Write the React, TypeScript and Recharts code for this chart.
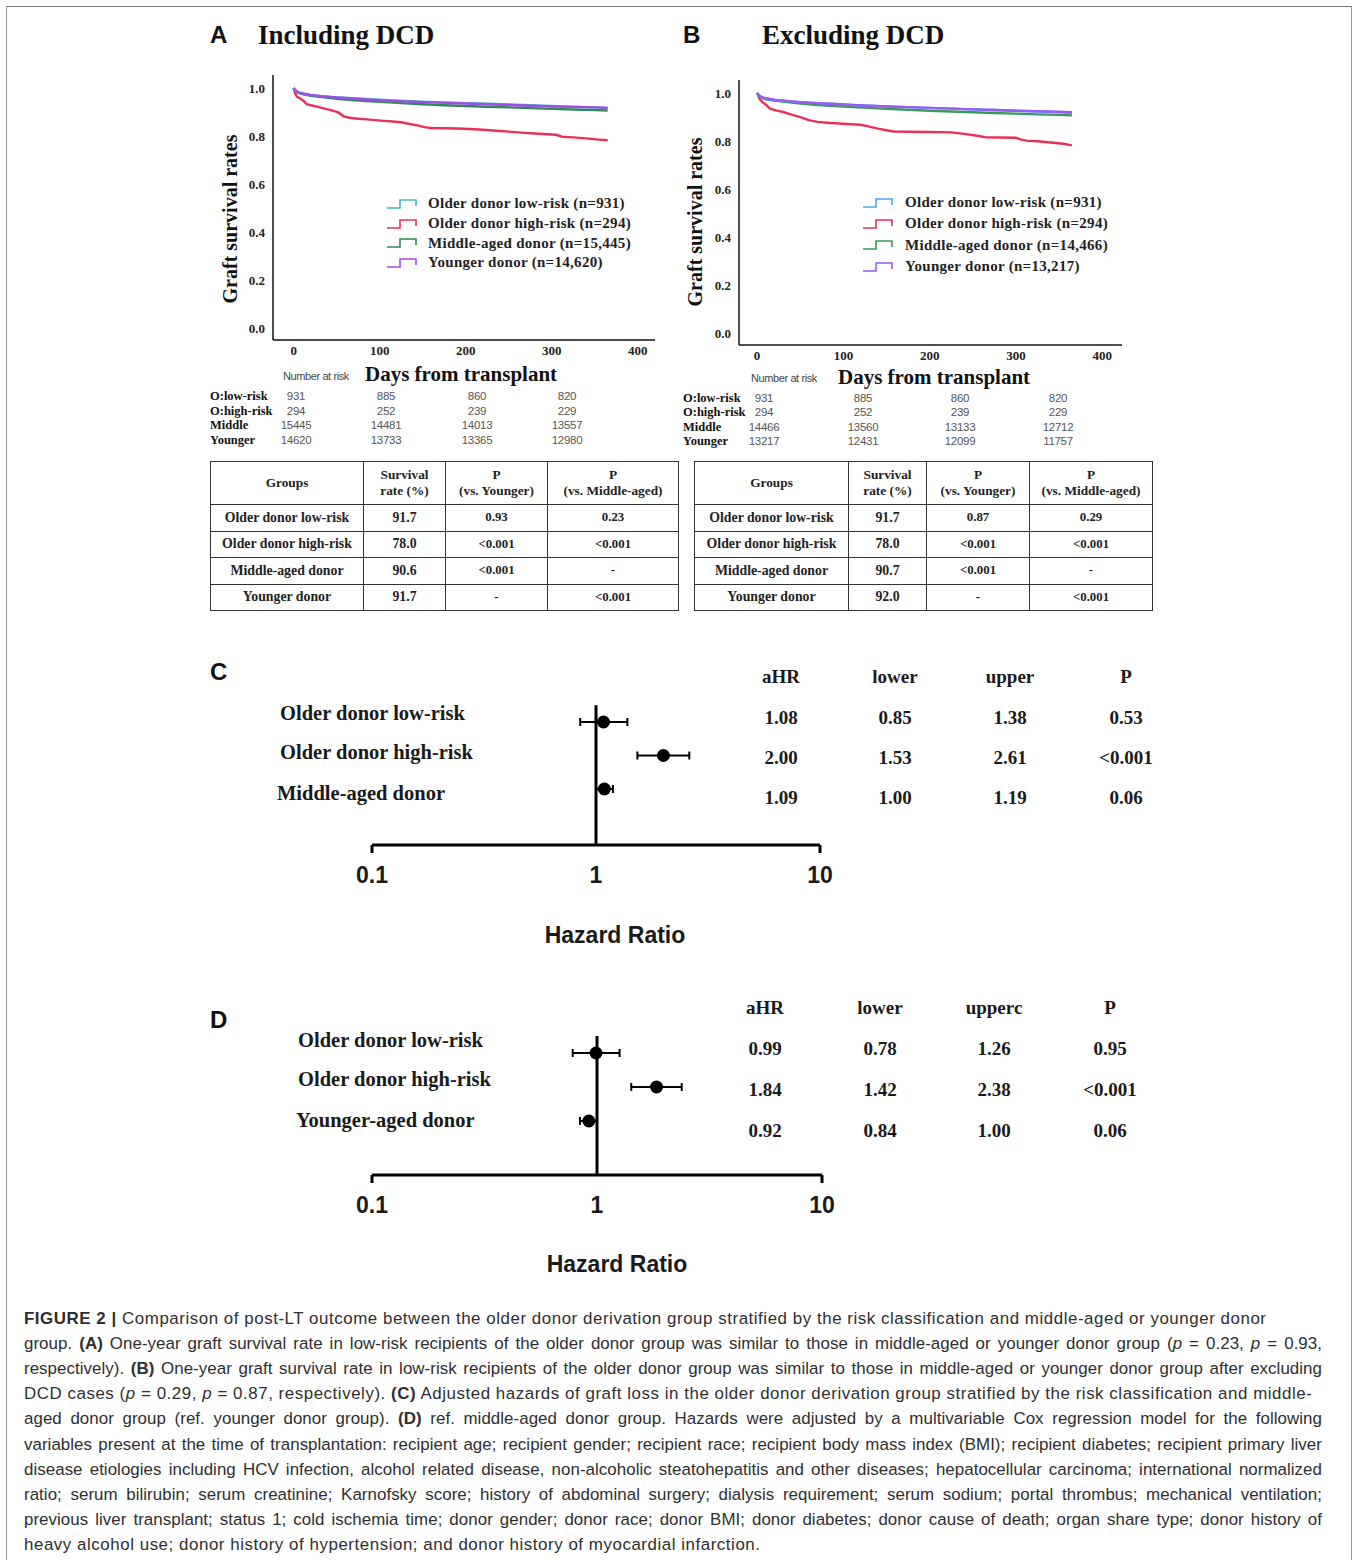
import React from 'react';
import {
  LineChart,
  Line,
  XAxis,
  YAxis,
  Legend,
  ScatterChart,
  Scatter,
  ErrorBar,
  ReferenceLine,
} from 'recharts';

const SERIF = "'Liberation Serif','DejaVu Serif',serif";
const SANS = "'Liberation Sans',Arial,sans-serif";

// ---------------- data ----------------
const dayTicks = [0, 100, 200, 300, 400];
const survTicks = [0, 0.2, 0.4, 0.6, 0.8, 1.0];

const groupNames = ['Older donor low-risk', 'Older donor high-risk', 'Middle-aged donor', 'Younger donor'];
const nA = ['931', '294', '15,445', '14,620'];
const nB = ['931', '294', '14,466', '13,217'];

const curveDays = [0, 2, 5, 10, 20, 35, 50, 70, 90, 110, 130, 150, 175, 200, 225, 250, 275, 300, 325, 350, 365];
const A_low = [1, 0.99, 0.982, 0.976, 0.97, 0.965, 0.961, 0.957, 0.953, 0.949, 0.946, 0.943, 0.94, 0.937, 0.934, 0.931, 0.928, 0.925, 0.922, 0.919, 0.917];
const A_mid = [1, 0.988, 0.98, 0.974, 0.967, 0.961, 0.955, 0.949, 0.944, 0.94, 0.936, 0.932, 0.928, 0.925, 0.922, 0.919, 0.916, 0.913, 0.91, 0.908, 0.906];
const A_young = [1, 0.99, 0.983, 0.977, 0.971, 0.965, 0.96, 0.955, 0.951, 0.947, 0.944, 0.941, 0.938, 0.935, 0.932, 0.929, 0.926, 0.923, 0.921, 0.919, 0.917];
const A_highDays = [0, 2, 4, 8, 12, 15, 20, 28, 36, 44, 52, 58, 65, 75, 85, 95, 105, 115, 125, 135, 145, 152, 160, 175, 190, 205, 220, 235, 250, 265, 280, 295, 305, 312, 325, 340, 355, 365];
const A_high = [1, 0.975, 0.963, 0.955, 0.945, 0.932, 0.928, 0.921, 0.914, 0.907, 0.898, 0.882, 0.876, 0.872, 0.869, 0.866, 0.863, 0.86, 0.857, 0.85, 0.843, 0.837, 0.833, 0.832, 0.831, 0.829, 0.826, 0.822, 0.818, 0.814, 0.81, 0.807, 0.805, 0.797, 0.794, 0.79, 0.785, 0.782];

const B_low = [1, 0.99, 0.983, 0.977, 0.971, 0.966, 0.962, 0.958, 0.954, 0.95, 0.947, 0.944, 0.941, 0.938, 0.935, 0.932, 0.929, 0.926, 0.923, 0.92, 0.917];
const B_mid = [1, 0.988, 0.98, 0.974, 0.968, 0.962, 0.956, 0.95, 0.946, 0.942, 0.938, 0.934, 0.93, 0.926, 0.923, 0.92, 0.917, 0.914, 0.911, 0.909, 0.907];
const B_young = [1, 0.99, 0.984, 0.978, 0.972, 0.967, 0.962, 0.958, 0.954, 0.95, 0.947, 0.944, 0.941, 0.938, 0.935, 0.932, 0.929, 0.926, 0.924, 0.922, 0.92];
const B_highDays = [0, 3, 6, 10, 15, 22, 30, 40, 50, 60, 70, 85, 100, 110, 120, 130, 140, 150, 158, 175, 200, 225, 240, 255, 265, 280, 300, 306, 312, 325, 340, 355, 365];
const B_high = [1, 0.975, 0.962, 0.952, 0.935, 0.928, 0.921, 0.91, 0.9, 0.887, 0.88, 0.875, 0.872, 0.87, 0.868, 0.86, 0.852, 0.845, 0.84, 0.839, 0.838, 0.836, 0.83, 0.822, 0.816, 0.815, 0.814, 0.806, 0.802, 0.799, 0.794, 0.789, 0.782];

const colorsA = ['#3dbcc0', '#e8305a', '#2e8b57', '#a24ae8'];
const colorsB = ['#4aa9e6', '#e8305a', '#3a9a5a', '#9b59f5'];

const riskLabels = ['O:low-risk', 'O:high-risk', 'Middle', 'Younger'];
const riskA_low = [931, 885, 860, 820];
const riskA_high = [294, 252, 239, 229];
const riskA_mid = [15445, 14481, 14013, 13557];
const riskA_young = [14620, 13733, 13365, 12980];
const riskB_low = [931, 885, 860, 820];
const riskB_high = [294, 252, 239, 229];
const riskB_mid = [14466, 13560, 13133, 12712];
const riskB_young = [13217, 12431, 12099, 11757];

const tableHeaders = ['Groups', 'Survival|rate (%)', 'P|(vs. Younger)', 'P|(vs. Middle-aged)'];
const survA = ['91.7', '78.0', '90.6', '91.7'];
const pYoungA = ['0.93', '<0.001', '<0.001', '-'];
const pMidA = ['0.23', '<0.001', '-', '<0.001'];
const survB = ['91.7', '78.0', '90.7', '92.0'];
const pYoungB = ['0.87', '<0.001', '<0.001', '-'];
const pMidB = ['0.29', '<0.001', '-', '<0.001'];

const hrTicks = [0.1, 1, 10];
const groupsC = ['Older donor low-risk', 'Older donor high-risk', 'Middle-aged donor'];
const hrC = [1.08, 2.0, 1.09];
const lowerC = [0.85, 1.53, 1.0];
const upperC = [1.38, 2.61, 1.19];
const pC = ['0.53', '<0.001', '0.06'];
const headC = ['aHR', 'lower', 'upper', 'P'];

const groupsD = ['Older donor low-risk', 'Older donor high-risk', 'Younger-aged donor'];
const hrD = [0.99, 1.84, 0.92];
const lowerD = [0.78, 1.42, 0.84];
const upperD = [1.26, 2.38, 1.0];
const pD = ['0.95', '<0.001', '0.06'];
const headD = ['aHR', 'lower', 'upperc', 'P'];

// ---------------- helpers ----------------
const zip = (days: number[], vals: number[]) => days.map((t, i) => ({ t, s: vals[i] }));

type TP = { x: number; y: number; anchor?: 'start' | 'middle' | 'end'; style?: React.CSSProperties; lh?: number; children: React.ReactNode };
function T({ x, y, anchor = 'start', style, lh = 24, children }: TP) {
  const w = 600;
  const left = anchor === 'start' ? x : anchor === 'middle' ? x - w / 2 : x - w;
  return (
    <div
      style={{
        position: 'absolute',
        left,
        top: y - lh / 2,
        width: w,
        height: lh,
        lineHeight: lh + 'px',
        textAlign: anchor === 'start' ? 'left' : anchor === 'middle' ? 'center' : 'right',
        whiteSpace: 'nowrap',
        ...style,
      }}
    >
      {children}
    </div>
  );
}

const StepIcon = ({ color }: { color: string }) => (
  <svg width={30} height={14} style={{ display: 'block' }}>
    <path d="M0,11 H13 V3 H29 V9" fill="none" stroke={color} strokeWidth={1.6} />
  </svg>
);

type KMProps = {
  left: number;
  top: number;
  width: number;
  height: number;
  margin: { top: number; right: number; bottom: number; left: number };
  xDomain: [number, number];
  yDomain: [number, number];
  series: { name: string; color: string; data: { t: number; s: number }[] }[];
  legendNames: string[];
  legendColors: string[];
  legendLeft: number;
  legendTop: number;
  legendRow: number;
  legendGap: number;
};

function KMChart(p: KMProps) {
  const legendContent = () => (
    <div style={{ fontFamily: SERIF, fontWeight: 700, fontSize: 15, color: '#222' }}>
      {p.legendNames.map((n, i) => (
        <div key={n} style={{ display: 'flex', alignItems: 'center', height: p.legendRow }}>
          <StepIcon color={p.legendColors[i]} />
          <span style={{ marginLeft: p.legendGap, whiteSpace: 'nowrap', letterSpacing: 0.3 }}>{n}</span>
        </div>
      ))}
    </div>
  );
  return (
    <div style={{ position: 'absolute', left: p.left, top: p.top }}>
      <LineChart width={p.width} height={p.height} margin={p.margin}>
        <XAxis
          type="number"
          dataKey="t"
          domain={p.xDomain}
          ticks={dayTicks}
          interval={0}
          allowDataOverflow
          tickLine={false}
          tickSize={4}
          tickMargin={2}
          height={30}
          axisLine={{ stroke: '#111', strokeWidth: 1.5 }}
          tick={{ fontFamily: SERIF, fontWeight: 700, fontSize: 13, fill: '#222' }}
        />
        <YAxis
          type="number"
          domain={p.yDomain}
          ticks={survTicks}
          interval={0}
          allowDataOverflow
          tickLine={false}
          width={45}
          tickFormatter={(v: number) => v.toFixed(1)}
          axisLine={{ stroke: '#111', strokeWidth: 1.5 }}
          tick={{ fontFamily: SERIF, fontWeight: 700, fontSize: 13, fill: '#222' }}
        />
        {p.series.map((s) => (
          <Line
            key={s.name}
            name={s.name}
            data={s.data}
            dataKey="s"
            type="linear"
            stroke={s.color}
            strokeWidth={2.4}
            dot={false}
            activeDot={false}
            isAnimationActive={false}
          />
        ))}
        <Legend
          layout="horizontal"
          verticalAlign="middle"
          align="center"
          content={legendContent}
          wrapperStyle={{ left: p.legendLeft, top: p.legendTop, width: 320 }}
        />
      </LineChart>
    </div>
  );
}

function RiskTable({ x, ys, cols, values }: { x: number; ys: number[]; cols: number[]; values: number[][] }) {
  return (
    <>
      {riskLabels.map((l, i) => (
        <React.Fragment key={l}>
          <T x={x} y={ys[i]} lh={14} style={{ fontFamily: SERIF, fontWeight: 700, fontSize: 12.5, color: '#111' }}>
            {l}
          </T>
          {values[i].map((v, j) => (
            <T key={j} x={cols[j]} y={ys[i]} anchor="middle" lh={14} style={{ fontFamily: SANS, fontSize: 11.5, color: '#555', letterSpacing: -0.3 }}>
              {String(v)}
            </T>
          ))}
        </React.Fragment>
      ))}
    </>
  );
}

function SurvTable({ x, y, widths, surv, pY, pM }: { x: number; y: number; widths: number[]; surv: string[]; pY: string[]; pM: string[] }) {
  const cell: React.CSSProperties = {
    border: '1.5px solid #333',
    textAlign: 'center',
    verticalAlign: 'middle',
    padding: 0,
    fontFamily: SERIF,
    fontWeight: 700,
    fontSize: 13.8,
    color: '#222',
    whiteSpace: 'nowrap',
  };
  const total = widths.reduce((a, b) => a + b, 0);
  return (
    <table style={{ position: 'absolute', left: x, top: y, width: total, borderCollapse: 'collapse', tableLayout: 'fixed' }}>
      <colgroup>
        {widths.map((w, i) => (
          <col key={i} style={{ width: w }} />
        ))}
      </colgroup>
      <tbody>
        <tr style={{ height: 43 }}>
          {tableHeaders.map((h, i) => (
            <td key={i} style={{ ...cell, fontSize: 13.3, lineHeight: '16px' }}>
              {h.split('|').map((s, k) => (
                <div key={k}>{s}</div>
              ))}
            </td>
          ))}
        </tr>
        {groupNames.map((g, i) => (
          <tr key={g} style={{ height: 26.5 }}>
            <td style={cell}>{g}</td>
            <td style={cell}>{surv[i]}</td>
            <td style={{ ...cell, fontSize: 12.8 }}>{pY[i]}</td>
            <td style={{ ...cell, fontSize: 12.8 }}>{pM[i]}</td>
          </tr>
        ))}
      </tbody>
    </table>
  );
}

const HRTick = (props: any) => {
  const { x, y, payload } = props;
  const v = payload.value as number;
  return (
    <g>
      {v !== 1 && <line x1={x} x2={x} y1={y - 8} y2={y} stroke="#000" strokeWidth={3} />}
      <text x={x} y={y + 30} textAnchor="middle" fontFamily={SANS} fontWeight={700} fontSize={23} fill="#1a1a1a">
        {String(v)}
      </text>
    </g>
  );
};

type ForestProps = {
  left: number;
  top: number;
  width: number;
  height: number;
  margin: { top: number; right: number; bottom: number; left: number };
  yMax: number;
  hr: number[];
  lower: number[];
  upper: number[];
};

function Forest(p: ForestProps) {
  const data = p.hr.map((h, i) => ({ hr: h, row: i + 1, ci: [h - p.lower[i], p.upper[i] - h] }));
  return (
    <div style={{ position: 'absolute', left: p.left, top: p.top }}>
      <ScatterChart width={p.width} height={p.height} margin={p.margin}>
        <XAxis
          type="number"
          dataKey="hr"
          scale="log"
          domain={[0.1, 10]}
          ticks={hrTicks}
          interval={0}
          allowDataOverflow
          tickLine={false}
          tickSize={8}
          tickMargin={0}
          height={60}
          axisLine={{ stroke: '#000', strokeWidth: 3 }}
          tick={<HRTick />}
        />
        <YAxis type="number" dataKey="row" domain={[0, p.yMax]} reversed hide width={0} allowDataOverflow />
        <ReferenceLine
          segment={[
            { x: 1, y: 0.5 },
            { x: 1, y: p.yMax },
          ]}
          stroke="#000"
          strokeWidth={3}
          ifOverflow="visible"
        />
        <Scatter
          data={data}
          isAnimationActive={false}
          shape={(sp: any) => <circle cx={sp.cx} cy={sp.cy} r={6.5} fill="#000" />}
        >
          <ErrorBar dataKey="ci" direction="x" width={4} strokeWidth={2} stroke="#000" />
        </Scatter>
      </ScatterChart>
    </div>
  );
}

function ForestText({
  groups, labelX, labelYs, colXs, headY, rowYs, head, hr, lower, upper, pv,
}: {
  groups: string[]; labelX: number[]; labelYs: number[]; colXs: number[]; headY: number; rowYs: number[];
  head: string[]; hr: number[]; lower: number[]; upper: number[]; pv: string[];
}) {
  const lab: React.CSSProperties = { fontFamily: SERIF, fontWeight: 700, fontSize: 20.5, color: '#1a1a1a' };
  const val: React.CSSProperties = { fontFamily: SERIF, fontWeight: 700, fontSize: 19, color: '#1a1a1a' };
  const cols = [hr.map((v) => v.toFixed(2)), lower.map((v) => v.toFixed(2)), upper.map((v) => v.toFixed(2)), pv];
  return (
    <>
      {groups.map((g, i) => (
        <T key={g} x={labelX[i]} y={labelYs[i]} style={lab}>
          {g}
        </T>
      ))}
      {head.map((h, j) => (
        <T key={h} x={colXs[j]} y={headY} anchor="middle" style={val}>
          {h}
        </T>
      ))}
      {cols.map((c, j) =>
        c.map((v, i) => (
          <T key={j + '-' + i} x={colXs[j]} y={rowYs[i]} anchor="middle" style={val}>
            {v}
          </T>
        ))
      )}
    </>
  );
}

const captionLines: { parts: React.ReactNode; justify: boolean }[] = [
  {
    parts: (
      <>
        <b>FIGURE 2 |</b> Comparison of post-LT outcome between the older donor derivation group stratified by the risk classification and middle-aged or younger donor
      </>
    ),
    justify: false,
  },
  {
    parts: (
      <>
        group. <b>(A)</b> One-year graft survival rate in low-risk recipients of the older donor group was similar to those in middle-aged or younger donor group (<i>p</i> = 0.23, <i>p</i> = 0.93,
      </>
    ),
    justify: true,
  },
  {
    parts: (
      <>
        respectively). <b>(B)</b> One-year graft survival rate in low-risk recipients of the older donor group was similar to those in middle-aged or younger donor group after excluding
      </>
    ),
    justify: true,
  },
  {
    parts: (
      <>
        DCD cases (<i>p</i> = 0.29, <i>p</i> = 0.87, respectively). <b>(C)</b> Adjusted hazards of graft loss in the older donor derivation group stratified by the risk classification and middle-
      </>
    ),
    justify: false,
  },
  {
    parts: (
      <>
        aged donor group (ref. younger donor group). <b>(D)</b> ref. middle-aged donor group. Hazards were adjusted by a multivariable Cox regression model for the following
      </>
    ),
    justify: true,
  },
  {
    parts: <>variables present at the time of transplantation: recipient age; recipient gender; recipient race; recipient body mass index (BMI); recipient diabetes; recipient primary liver</>,
    justify: true,
  },
  {
    parts: <>disease etiologies including HCV infection, alcohol related disease, non-alcoholic steatohepatitis and other diseases; hepatocellular carcinoma; international normalized</>,
    justify: true,
  },
  {
    parts: <>ratio; serum bilirubin; serum creatinine; Karnofsky score; history of abdominal surgery; dialysis requirement; serum sodium; portal thrombus; mechanical ventilation;</>,
    justify: true,
  },
  {
    parts: <>previous liver transplant; status 1; cold ischemia time; donor gender; donor race; donor BMI; donor diabetes; donor cause of death; organ share type; donor history of</>,
    justify: true,
  },
  {
    parts: <>heavy alcohol use; donor history of hypertension; and donor history of myocardial infarction.</>,
    justify: false,
  },
];

export default function App() {
  const seriesA = [
    { name: groupNames[1], color: colorsA[1], data: zip(A_highDays, A_high) },
    { name: groupNames[2], color: colorsA[2], data: zip(curveDays, A_mid) },
    { name: groupNames[0], color: colorsA[0], data: zip(curveDays, A_low) },
    { name: groupNames[3], color: colorsA[3], data: zip(curveDays, A_young) },
  ];
  const seriesB = [
    { name: groupNames[1], color: colorsB[1], data: zip(B_highDays, B_high) },
    { name: groupNames[2], color: colorsB[2], data: zip(curveDays, B_mid) },
    { name: groupNames[0], color: colorsB[0], data: zip(curveDays, B_low) },
    { name: groupNames[3], color: colorsB[3], data: zip(curveDays, B_young) },
  ];
  const title: React.CSSProperties = { fontFamily: SERIF, fontWeight: 700, fontSize: 27, color: '#111' };
  const letter: React.CSSProperties = { fontFamily: SANS, fontWeight: 700, fontSize: 24, color: '#111' };
  const axisTitle: React.CSSProperties = { fontFamily: SERIF, fontWeight: 700, fontSize: 21, color: '#111' };
  const nar: React.CSSProperties = { fontFamily: SANS, fontSize: 11, color: '#444', letterSpacing: -0.4 };
  const hrTitle: React.CSSProperties = { fontFamily: SANS, fontWeight: 700, fontSize: 23, color: '#1a1a1a' };

  return (
    <div
      style={{
        position: 'absolute',
        left: 0,
        top: 0,
        width: 1356,
        height: 1560,
        background: '#fff',
        overflow: 'hidden',
        fontFamily: SERIF,
      }}
    >
      {/* frame */}
      <div
        style={{
          position: 'absolute',
          left: 6,
          top: 6,
          width: 1344,
          height: 1600,
          borderTop: '1.5px solid #777',
          borderLeft: '1.5px solid #999',
          borderRight: '1.5px solid #999',
        }}
      />

      {/* Panel A */}
      <T x={210} y={35} lh={30} style={letter}>A</T>
      <T x={258} y={35} lh={30} style={title}>Including DCD</T>
      <KMChart
        left={200}
        top={40}
        width={470}
        height={330}
        margin={{ top: 35, right: 15, bottom: 0, left: 28 }}
        xDomain={[-24, 420]}
        yDomain={[-0.05, 1.054]}
        series={seriesA}
        legendNames={groupNames.map((g, i) => `${g} (n=${nA[i]})`)}
        legendColors={colorsA}
        legendLeft={187}
        legendTop={154}
        legendRow={19.7}
        legendGap={11}
      />
      <div
        style={{
          position: 'absolute',
          left: 230 - 110,
          top: 219 - 12,
          width: 220,
          height: 24,
          lineHeight: '24px',
          textAlign: 'center',
          transform: 'rotate(-90deg)',
          whiteSpace: 'nowrap',
          ...axisTitle,
          fontSize: 20,
        }}
      >
        Graft survival rates
      </div>
      <T x={283} y={376} lh={14} style={nar}>Number at risk</T>
      <T x={365} y={374} style={axisTitle}>Days from transplant</T>
      <RiskTable
        x={210}
        ys={[396, 410.5, 425, 439.5]}
        cols={[296, 386, 477, 567]}
        values={[riskA_low, riskA_high, riskA_mid, riskA_young]}
      />
      <SurvTable x={210} y={461} widths={[153, 82, 102, 131]} surv={survA} pY={pYoungA} pM={pMidA} />

      {/* Panel B */}
      <T x={683} y={35} lh={30} style={letter}>B</T>
      <T x={762} y={35} lh={30} style={title}>Excluding DCD</T>
      <KMChart
        left={665}
        top={45}
        width={472}
        height={330}
        margin={{ top: 35, right: 15, bottom: 0, left: 29 }}
        xDomain={[-21, 423]}
        yDomain={[-0.048, 1.054]}
        series={seriesB}
        legendNames={groupNames.map((g, i) => `${g} (n=${nB[i]})`)}
        legendColors={colorsB}
        legendLeft={198}
        legendTop={147}
        legendRow={21.3}
        legendGap={12}
      />
      <div
        style={{
          position: 'absolute',
          left: 695 - 110,
          top: 222 - 12,
          width: 220,
          height: 24,
          lineHeight: '24px',
          textAlign: 'center',
          transform: 'rotate(-90deg)',
          whiteSpace: 'nowrap',
          ...axisTitle,
          fontSize: 20,
        }}
      >
        Graft survival rates
      </div>
      <T x={751} y={378} lh={14} style={nar}>Number at risk</T>
      <T x={838} y={377} style={axisTitle}>Days from transplant</T>
      <RiskTable
        x={683}
        ys={[398, 412, 427, 441]}
        cols={[764, 863, 960, 1058]}
        values={[riskB_low, riskB_high, riskB_mid, riskB_young]}
      />
      <SurvTable x={694} y={461} widths={[154, 78, 103, 123]} surv={survB} pY={pYoungB} pM={pMidB} />

      {/* Panel C */}
      <T x={210} y={672} lh={30} style={letter}>C</T>
      <Forest
        left={200}
        top={660}
        width={700}
        height={245}
        margin={{ top: 28.5, right: 80, bottom: 0, left: 172 }}
        yMax={(845 - 688.5) / 33.5}
        hr={hrC}
        lower={lowerC}
        upper={upperC}
      />
      <ForestText
        groups={groupsC}
        labelX={[280, 280, 277]}
        labelYs={[713, 752, 793]}
        colXs={[781, 895, 1010, 1126]}
        headY={677}
        rowYs={[718, 758, 798]}
        head={headC}
        hr={hrC}
        lower={lowerC}
        upper={upperC}
        pv={pC}
      />
      <T x={615} y={935} lh={30} anchor="middle" style={hrTitle}>Hazard Ratio</T>

      {/* Panel D */}
      <T x={210} y={1020} lh={30} style={letter}>D</T>
      <Forest
        left={200}
        top={990}
        width={700}
        height={245}
        margin={{ top: 29, right: 78, bottom: 0, left: 172 }}
        yMax={(1175 - 1019) / 34}
        hr={hrD}
        lower={lowerD}
        upper={upperD}
      />
      <ForestText
        groups={groupsD}
        labelX={[298, 298, 296]}
        labelYs={[1040, 1079, 1120]}
        colXs={[765, 880, 994, 1110]}
        headY={1008}
        rowYs={[1049, 1090, 1131]}
        head={headD}
        hr={hrD}
        lower={lowerD}
        upper={upperD}
        pv={pD}
      />
      <T x={617} y={1264} lh={30} anchor="middle" style={hrTitle}>Hazard Ratio</T>

      {/* Caption */}
      {captionLines.map((l, i) => (
        <div
          key={i}
          style={{
            position: 'absolute',
            left: 24,
            top: 1318 + i * 25.2 - 12.5,
            width: 1298,
            height: 25,
            lineHeight: '25px',
            fontFamily: SANS,
            fontSize: 16.9,
            letterSpacing: l.justify ? 0.05 : 0.55,
            color: '#2e2e2e',
            textAlign: l.justify ? 'justify' : 'left',
            textAlignLast: l.justify ? 'justify' : 'left',
          }}
        >
          {l.parts}
        </div>
      ))}
    </div>
  );
}
